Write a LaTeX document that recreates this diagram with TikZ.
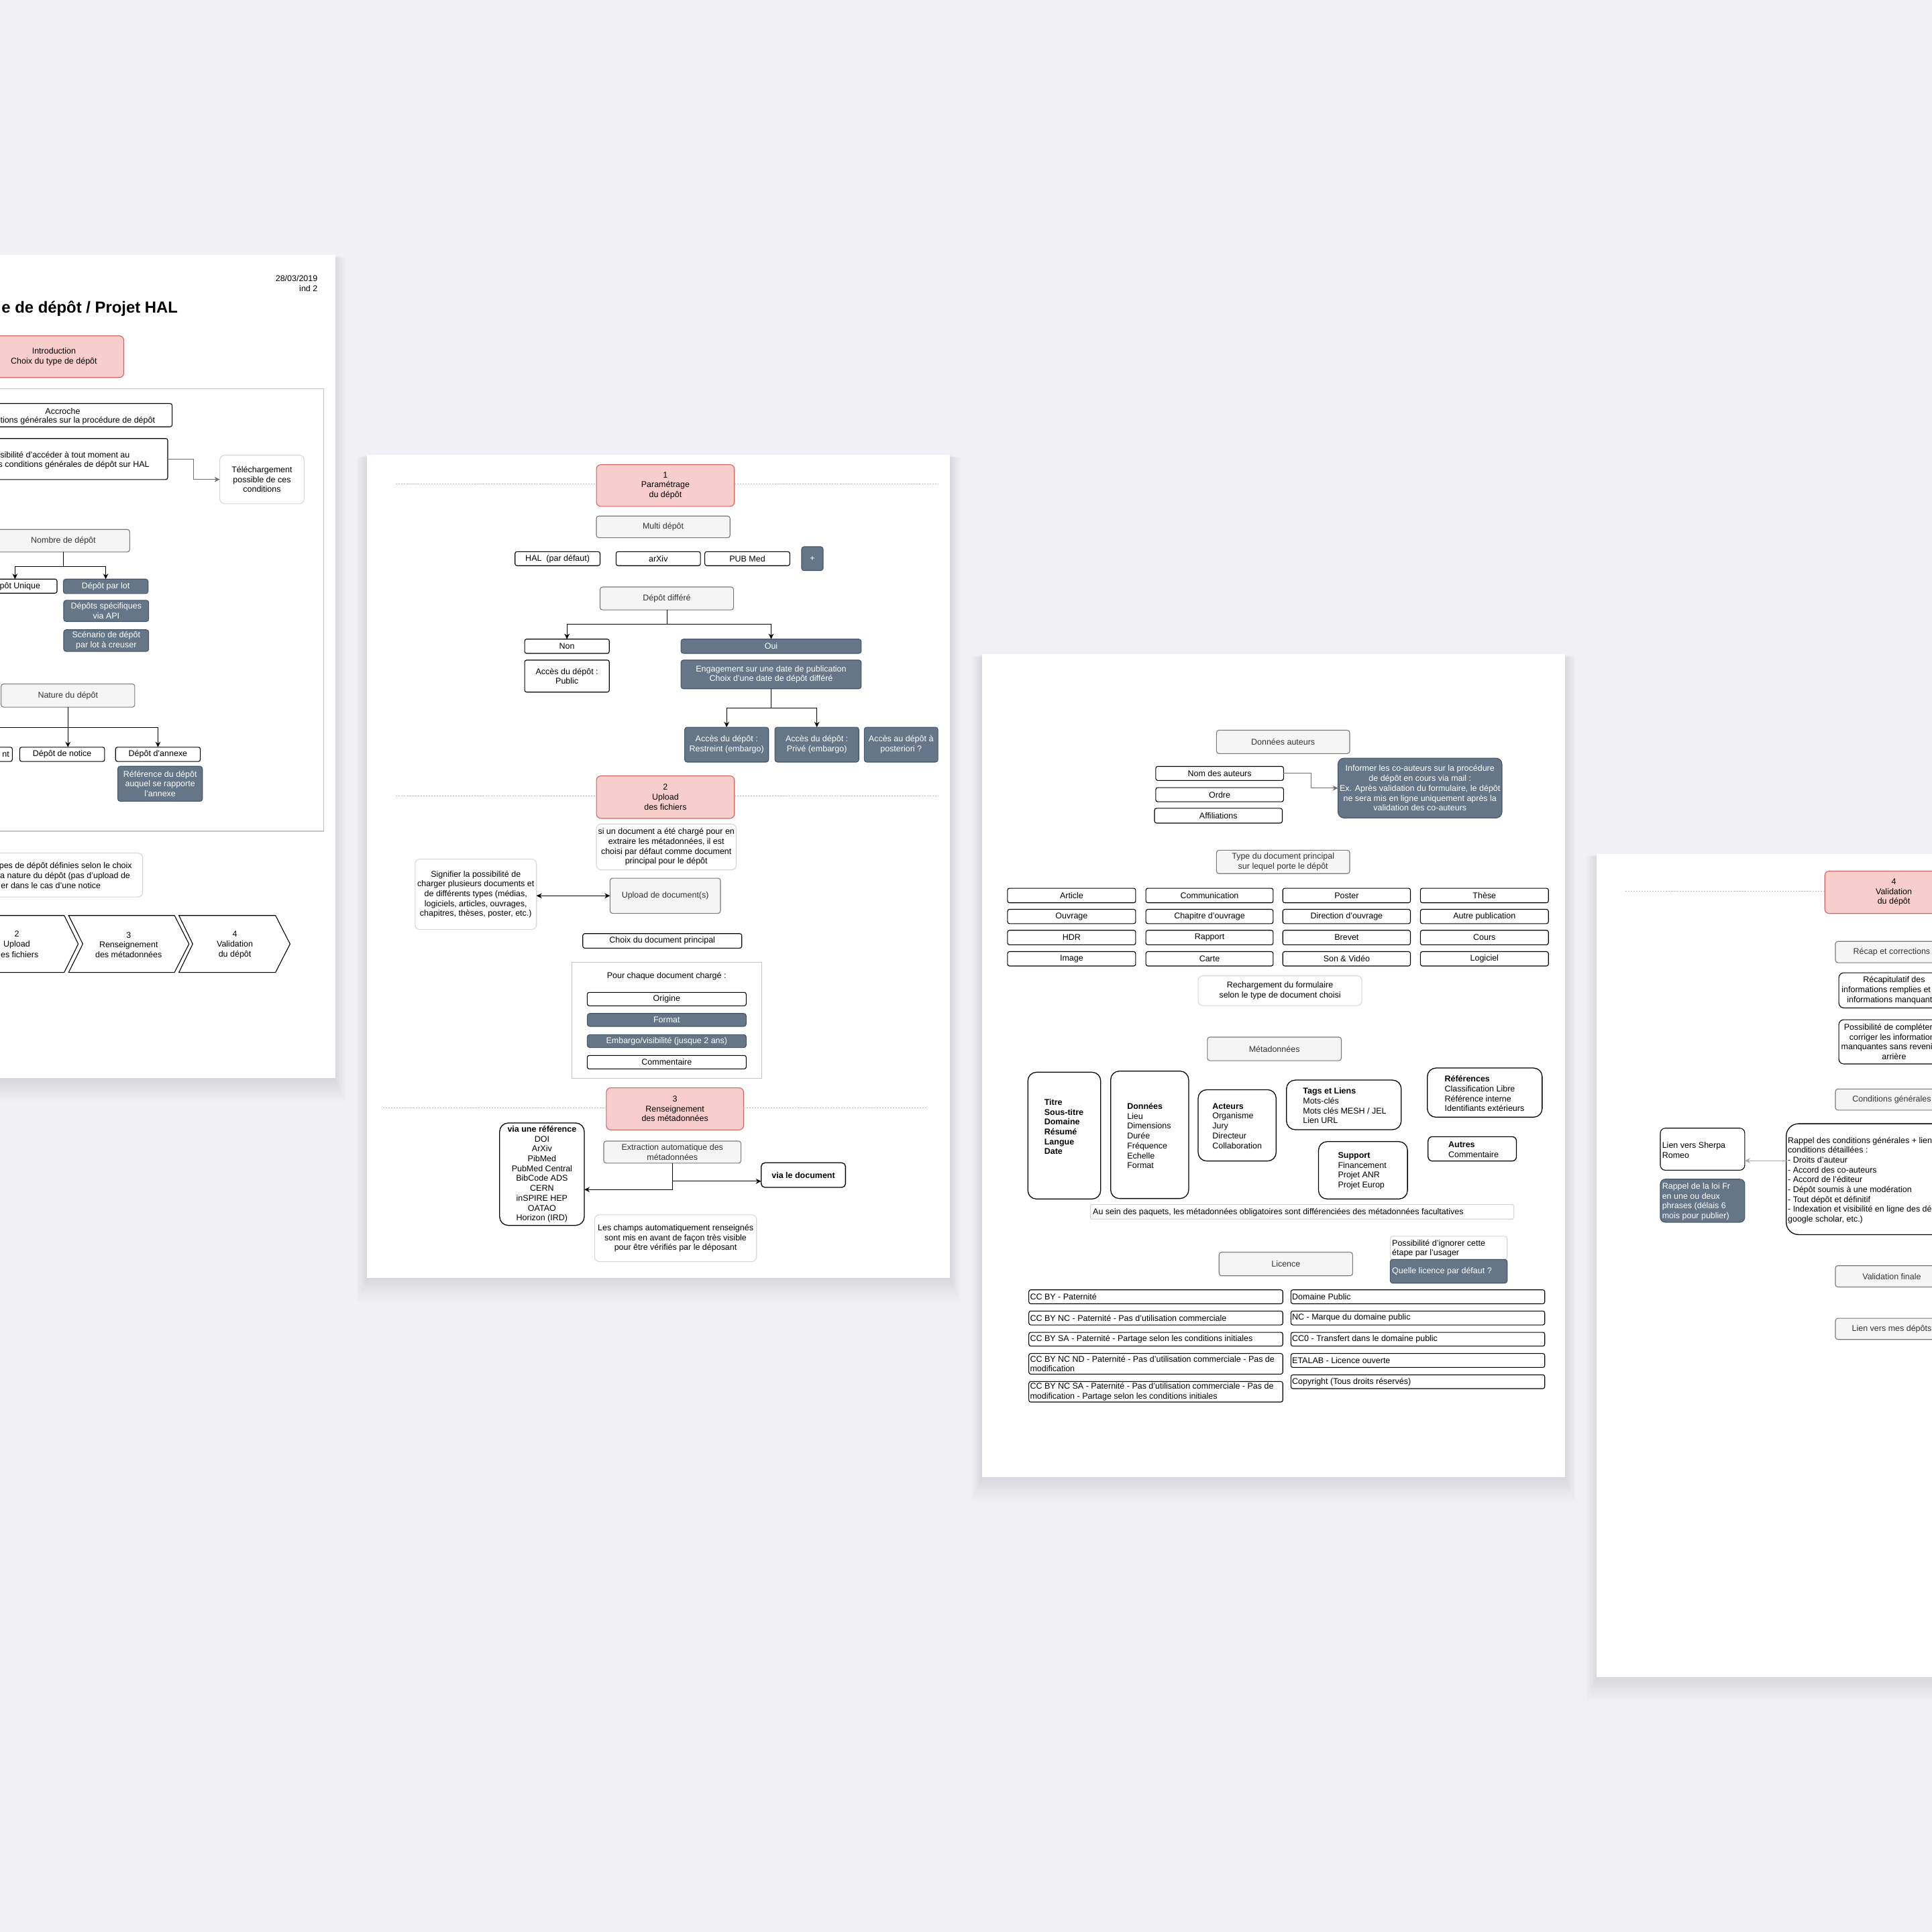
\documentclass[tikz,border=0pt]{standalone}
\usepackage{fontspec}
\setmainfont{Liberation Sans}
\usetikzlibrary{arrows.meta}
\newcommand\fsz{\fontsize{6.8}{8}\selectfont}
\newcommand\bx[7]{%
  \pgfmathsetmacro\bxw{(#4)-(#2)}%
  \pgfmathsetmacro\bxh{(#5)-(#3)}%
  \pgfmathsetmacro\bxx{((#2)+(#4))/2}%
  \pgfmathsetmacro\bxy{((#3)+(#5))/2}%
  \node[#1, minimum width=\bxw pt, minimum height=\bxh pt] (#6) at (\bxx,\bxy) {#7};}
\definecolor{bgc}{HTML}{F1F1F5}
\definecolor{pinkf}{HTML}{F8CECC}
\definecolor{pinkd}{HTML}{D4625F}
\definecolor{darkf}{HTML}{647687}
\definecolor{darkd}{HTML}{46566A}
\definecolor{grayf}{HTML}{F5F5F5}
\definecolor{grayd}{HTML}{7A7A7A}
\definecolor{grayt}{HTML}{333333}
\definecolor{noted}{HTML}{D6D6D6}
\definecolor{framed}{HTML}{C4C4C4}
\definecolor{dashc}{HTML}{BDBDBD}
\definecolor{arrg}{HTML}{6E6E6E}
\definecolor{arrl}{HTML}{AAAAAA}
\begin{document}
\begin{tikzpicture}[x=1pt,y=-1pt,
  base/.style={inner sep=0pt, outer sep=0pt, align=center, font=\fsz, line width=0.6pt},
  wbox/.style={base, draw=black, fill=white, rounded corners=1.6pt},
  gbox/.style={base, draw=grayd, fill=grayf, text=grayt, rounded corners=2pt},
  dbox/.style={base, draw=darkd, fill=darkf, text=white, rounded corners=2pt},
  pbox/.style={base, draw=pinkd, fill=pinkf, rounded corners=3.5pt},
  nbox/.style={base, draw=noted, fill=white, rounded corners=4pt},
  rbox/.style={base, draw=black, fill=white, rounded corners=7pt, line width=0.7pt},
  fbox/.style={base, draw=framed, line width=0.7pt},
  txt/.style={inner sep=0pt, outer sep=0pt, font=\fsz, align=left},
  ctxt/.style={inner sep=0pt, outer sep=0pt, font=\fsz, align=center},
  arr/.style={draw=black, line width=0.6pt, -{Stealth[length=4.4pt,width=4.2pt]}},
  plainl/.style={draw=black, line width=0.6pt},
  garr/.style={draw=arrg, line width=0.6pt, -{Stealth[length=4.4pt,width=4.2pt]}},
  larr/.style={draw=arrl, line width=0.6pt, -{Stealth[length=4.4pt,width=4.2pt]}},
  darr/.style={draw=black, line width=0.7pt, {Stealth[length=4.4pt,width=4.2pt]}-{Stealth[length=4.4pt,width=4.2pt]}},
  dline/.style={draw=dashc, line width=0.5pt, dash pattern=on 1.2pt off 1pt},
  chev/.style={draw=black, fill=white, line width=0.6pt, line join=miter}
]
\useasboundingbox (0,0) rectangle (1568,1568);
\fill[bgc] (0,0) rectangle (1568,1568);

% page shadows
\foreach \xa/\ya/\xb/\yb in {-40/207/272/875, 298/369/771/1037, 797/531/1270/1199, 1296/693/1620/1361}{
  \foreach \k in {1,...,12}{
    \fill[black, opacity=0.009] ({\xa-0.7*\k},{\ya+0.2*\k}) rectangle ({\xb+0.7*\k},{\yb+1.6*\k});
  }
}
% pages
\fill[white] (-40,207) rectangle (272,875);
\fill[white] (298,369) rectangle (771,1037);
\fill[white] (797,531) rectangle (1270,1199);
\fill[white] (1296,693) rectangle (1620,1361);

%%%%%%%%%%%%%%%% PAGE 1
\node[txt, anchor=east] (date) at (257.7,225.8) {28/03/2019};
\node[txt, anchor=east] (ind) at (257.7,234.2) {ind 2};
\node[txt, anchor=east, font=\bfseries\fontsize{13}{15}\selectfont] (title) at (144.3,250.5) {e de dépôt / Projet HAL};
\bx{pbox}{-12.8}{272.6}{100.4}{306.4}{intro}{Introduction\\Choix du type de dépôt}
\bx{fbox}{-5}{315.6}{262.6}{674.6}{frame1}{}

\bx{wbox}{-40}{327.5}{139.7}{346.4}{accr}{}
\node[ctxt] (accrt) at (50.9,333.8) {Accroche};
\node[txt, anchor=east] (accrt2) at (125.8,341.7) {tions générales sur la procédure de dépôt};

\bx{wbox}{-40}{355.9}{136.1}{389.2}{acces}{}
\node[txt, anchor=east] (accest1) at (105.3,369.1) {sibilité d'accéder à tout moment au};
\node[txt, anchor=east] (accest2) at (121.2,377.3) {s conditions générales de dépôt sur HAL};
\bx{nbox}{178.4}{369.4}{246.8}{408.8}{tele}{Téléchargement\\possible de ces\\conditions}
\draw[garr] (acces.east) -- ++(21,0) |- (tele.west);

\bx{gbox}{-2.5}{429.7}{105.3}{448}{nombre}{Nombre de dépôt}
\bx{wbox}{-22}{470}{46.3}{481.4}{unique}{}
\node[txt, anchor=east] (uniquet) at (32.7,476) {pôt Unique};
\bx{dbox}{51.4}{470}{120.2}{481.8}{lot}{Dépôt par lot}
\bx{dbox}{51.7}{487.2}{120.7}{504.4}{api}{Dépôts spécifiques\\via API}
\bx{dbox}{51.7}{511.1}{120.7}{528.7}{scen}{Scénario de dépôt\\par lot à creuser}
\draw[arr] (nombre.south) -- ++(0,11.9) -| (unique.north);
\draw[arr] (nombre.south) -- ++(0,11.9) -| (lot.north);

\bx{gbox}{0.9}{555.1}{109.4}{573.9}{nature}{Nature du dépôt}
\bx{wbox}{-50}{606.4}{10}{618}{docb}{}
\node[txt, anchor=east] (doct) at (7.5,612.4) {nt};
\bx{wbox}{16}{606.4}{84.9}{618}{notice}{Dépôt de notice}
\bx{wbox}{93.8}{606.4}{162.6}{618}{annexe}{Dépôt d'annexe}
\bx{dbox}{95.6}{621.9}{164.3}{650.3}{refa}{Référence du dépôt\\auquel se rapporte\\l'annexe}
\coordinate (natl) at (-5,590.2);
\draw[arr] (nature.south) -- (nature.south |- notice.north);
\draw[arr] (nature.south) -- ++(0,16.3) -| (annexe.north);
\draw[plainl] (nature.south |- natl) -- (natl);

\bx{nbox}{-40}{692.3}{115.8}{728}{note1}{}
\node[txt, anchor=east] (note1a) at (107.1,702.9) {pes de dépôt définies selon le choix};
\node[txt, anchor=east] (note1b) at (105.6,710.9) {a nature du dépôt (pas d'upload de};
\node[txt, anchor=east] (note1c) at (81.7,718.9) {er dans le cas d'une notice};

\draw[chev] (-20,743) -- (52.1,743) -- (63.5,766.1) -- (52.1,789.2) -- (-20,789.2);
\draw[chev] (55.7,743) -- (141.6,743) -- (153.4,766.1) -- (141.6,789.2) -- (55.7,789.2) -- (67.2,766.1) -- cycle;
\draw[chev] (145.2,743) -- (223.6,743) -- (235.4,766.1) -- (223.6,789.2) -- (145.2,789.2) -- (156.4,766.1) -- cycle;
\node[ctxt] (chat) at (13.6,762.9) {2\\Upload};
\node[txt, anchor=east] (chat2) at (31.2,774.6) {es fichiers};
\node[ctxt] (chbt) at (104.4,766.8) {3\\Renseignement\\des métadonnées};
\node[ctxt] (chct) at (190.6,766.8) {4\\Validation\\du dépôt};

%%%%%%%%%%%%%%%% PAGE 2
\bx{pbox}{484.1}{377.1}{596}{411}{p1}{1\\Paramétrage\\du dépôt}
\coordinate (d1l) at (321.3,392.9);
\coordinate (d1r) at (761.8,392.9);
\draw[dline] (d1l) -- (d1l -| p1.west);
\draw[dline] (p1.east |- d1r) -- (d1r);
\bx{gbox}{484}{418.8}{592.5}{436.4}{multi}{Multi dépôt}
\bx{wbox}{418}{447.7}{487}{459.1}{hal}{HAL~~(par défaut)}
\bx{wbox}{500}{447.7}{568.5}{459.1}{arxiv}{arXiv}
\bx{wbox}{572}{447.7}{641}{459.1}{pubmed}{PUB Med}
\bx{dbox}{650.6}{443.7}{668}{463.1}{plus}{+}
\bx{gbox}{487}{476.4}{595.4}{495}{diff}{Dépôt différé}
\bx{wbox}{425.8}{518.7}{494.5}{530.3}{non}{Non}
\bx{dbox}{552.7}{518.7}{699}{530.3}{oui}{Oui}
\draw[arr] (diff.south) -- ++(0,11.7) -| (non.north);
\draw[arr] (diff.south) -- ++(0,11.7) -| (oui.north);
\bx{wbox}{425.8}{535.7}{494.5}{561.7}{public}{Accès du dépôt :\\Public}
\bx{dbox}{552.7}{535.7}{699}{559}{eng}{Engagement sur une date de publication\\Choix d'une date de dépôt différé}
\bx{dbox}{555.7}{590.2}{623.8}{618.5}{restr}{Accès du dépôt :\\Restreint (embargo)}
\bx{dbox}{628.9}{590.2}{697}{618.5}{prive}{Accès du dépôt :\\Privé (embargo)}
\bx{dbox}{701.4}{590.2}{761.2}{618.5}{post}{Accès au dépôt à\\posteriori ?}
\draw[arr] (eng.south) -- ++(0,15.7) -| (restr.north);
\draw[arr] (eng.south) -- ++(0,15.7) -| (prive.north);

\bx{pbox}{484.1}{629.7}{596}{664.2}{p2}{2\\Upload\\des fichiers}
\coordinate (d2l) at (321.3,645.7);
\coordinate (d2r) at (761.8,645.7);
\draw[dline] (d2l) -- (d2l -| p2.west);
\draw[dline] (p2.east |- d2r) -- (d2r);
\bx{nbox}{484}{668.7}{597.5}{706}{note2}{si un document a été chargé pour en\\extraire les métadonnées, il est\\choisi par défaut comme document\\principal pour le dépôt}
\bx{nbox}{336.9}{697.2}{435.4}{754.4}{lnote}{Signifier la possibilité de\\charger plusieurs documents et\\de différents types (médias,\\logiciels, articles, ouvrages,\\chapitres, thèses, poster, etc.)}
\bx{gbox}{495.1}{712.7}{584.7}{741.3}{upload}{Upload de document(s)}
\draw[darr] (lnote.east |- upload.west) -- (upload.west);
\bx{wbox}{473}{757.7}{602}{769.5}{choix}{Choix du document principal}
\bx{fbox}{464}{780.9}{618.4}{875}{frame2}{}
\node[ctxt] (pourt) at (541,792.5) {Pour chaque document chargé :};
\bx{wbox}{476.6}{805.4}{605.6}{816.3}{orig}{Origine}
\bx{dbox}{476.6}{822.5}{605.6}{833}{format}{Format}
\bx{dbox}{476.6}{839.7}{605.6}{850.2}{embargo}{Embargo/visibilité (jusque 2 ans)}
\bx{wbox}{476.6}{856.6}{605.6}{867.5}{comment}{Commentaire}

\bx{pbox}{492.1}{882.9}{603.5}{917}{p3}{3\\Renseignement\\des métadonnées}
\coordinate (d3l) at (310.9,899.2);
\coordinate (d3r) at (752,899.2);
\draw[dline] (d3l) -- (d3l -| p3.west);
\draw[dline] (p3.east |- d3r) -- (d3r);
\bx{rbox}{405.5}{911.4}{474.2}{994.5}{vref}{\textbf{via une référence}\\DOI\\ArXiv\\PibMed\\PubMed Central\\BibCode ADS\\CERN\\inSPIRE HEP\\OATAO\\Horizon (IRD)}
\bx{gbox}{490}{926.1}{601.4}{944}{extr}{Extraction automatique des\\métadonnées}
\bx{wbox, rounded corners=3pt, line width=0.7pt}{617.8}{943.7}{686.2}{963.7}{vdoc}{\textbf{via le document}}
\coordinate (vrin) at ([yshift=-12.5pt]vref.east);
\coordinate (vdin) at ([yshift=-5pt]vdoc.west);
\draw[arr] (extr.south) |- (vrin);
\draw[arr] (extr.south |- vdin) -- (vdin);
\bx{nbox}{482.6}{985.9}{614}{1023.9}{note3}{Les champs automatiquement renseignés\\sont mis en avant de façon très visible\\pour être vérifiés par le déposant}

%%%%%%%%%%%%%%%% PAGE 3
\bx{gbox}{987.3}{592.6}{1095.4}{611.6}{dauteurs}{Données auteurs}
\bx{wbox}{938}{622}{1041.7}{633.4}{nom}{Nom des auteurs}
\bx{wbox}{938}{639.2}{1041.7}{650.7}{ordre}{Ordre}
\bx{wbox}{937}{656}{1040.7}{668}{affil}{Affiliations}
\bx{dbox, rounded corners=5pt}{1085.9}{615.3}{1219}{663.9}{inform}{Informer les co-auteurs sur la procédure\\de dépôt en cours via mail :\\Ex. Après validation du formulaire, le dépôt\\ne sera mis en ligne uniquement après la\\validation des co-auteurs}
\draw[garr] (nom.east) -- ++(22.3,0) |- (inform.west);
\bx{gbox}{987.3}{690}{1095.4}{709}{typedoc}{Type du document principal\\sur lequel porte le dépôt}

\bx{wbox}{817.7}{720.9}{921.7}{732.7}{t11}{Article}
\bx{wbox}{930}{720.9}{1033.3}{732.7}{t12}{Communication}
\bx{wbox}{1041.1}{720.9}{1144.7}{732.7}{t13}{Poster}
\bx{wbox}{1152.8}{720.9}{1256.7}{732.7}{t14}{Thèse}
\bx{wbox}{817.7}{738}{921.7}{749.6}{t21}{Ouvrage}
\bx{wbox}{930}{738}{1033.3}{749.6}{t22}{Chapitre d'ouvrage}
\bx{wbox}{1041.1}{738}{1144.7}{749.6}{t23}{Direction d'ouvrage}
\bx{wbox}{1152.8}{738}{1256.7}{749.6}{t24}{Autre publication}
\bx{wbox}{817.7}{755}{921.7}{766.8}{t31}{HDR}
\bx{wbox}{930}{755}{1033.3}{766.8}{t32}{Rapport}
\bx{wbox}{1041.1}{755}{1144.7}{766.8}{t33}{Brevet}
\bx{wbox}{1152.8}{755}{1256.7}{766.8}{t34}{Cours}
\bx{wbox}{817.7}{772.3}{921.7}{784}{t41}{Image}
\bx{wbox}{930}{772.3}{1033.3}{784}{t42}{Carte}
\bx{wbox}{1041.1}{772.3}{1144.7}{784}{t43}{Son \& Vidéo}
\bx{wbox}{1152.8}{772.3}{1256.7}{784}{t44}{Logiciel}
\bx{nbox}{972.4}{791.9}{1105.3}{816.2}{rech}{Rechargement du formulaire\\selon le type de document choisi}

\bx{gbox}{979.9}{841.7}{1088.6}{860.8}{meta}{Métadonnées}
\bx{rbox}{834.2}{870.2}{893.3}{973.1}{ma}{}
\node[txt, anchor=west, font=\fsz\bfseries] (mat) at (847.6,914.5) {Titre\\Sous-titre\\Domaine\\Résumé\\Langue\\Date};
\bx{rbox}{901.4}{869.3}{964.7}{972.7}{mb}{}
\node[txt, anchor=west] (mbt) at (914.8,921.8) {\textbf{Données}\\Lieu\\Dimensions\\Durée\\Fréquence\\Echelle\\Format};
\bx{rbox}{972.4}{884.4}{1035.7}{942.3}{mc}{}
\node[txt, anchor=west] (mct) at (984,913.8) {\textbf{Acteurs}\\Organisme\\Jury\\Directeur\\Collaboration};
\bx{rbox}{1044.1}{876.6}{1137.2}{916.8}{md}{}
\node[txt, anchor=west] (mdt) at (1057.5,897.5) {\textbf{Tags et Liens}\\Mots-clés\\Mots clés MESH / JEL\\Lien URL};
\bx{rbox}{1070.1}{926.5}{1142.3}{973.1}{me}{}
\node[txt, anchor=west] (met) at (1085.9,950.3) {\textbf{Support}\\Financement\\Projet ANR\\Projet Europ};
\bx{rbox}{1158.4}{866.8}{1251.6}{906.7}{mf}{}
\node[txt, anchor=west] (mft) at (1172.5,887.6) {\textbf{Références}\\Classification Libre\\Référence interne\\Identifiants extérieurs};
\bx{rbox, rounded corners=3.5pt}{1159}{922.5}{1230.7}{942.3}{mg}{}
\node[txt, anchor=west] (mgt) at (1175.5,933.1) {\textbf{Autres}\\Commentaire};
\bx{nbox, rounded corners=1pt}{884.9}{977.6}{1228.6}{989.4}{mnote}{}
\node[txt, anchor=west] (mnotet) at (887,983.8) {Au sein des paquets, les métadonnées obligatoires sont différenciées des métadonnées facultatives};

\bx{gbox}{989.4}{1016.3}{1097.8}{1035.4}{licence}{Licence}
\bx{nbox, rounded corners=2pt}{1128.3}{1003.3}{1223.2}{1022.1}{ignore}{}
\node[txt, anchor=west] (ignoret) at (1129.8,1013.3) {Possibilité d'ignorer cette\\étape par l'usager};
\bx{dbox}{1128.3}{1022.1}{1223.2}{1041.4}{quelle}{}
\node[txt, anchor=west, text=white] (quellet) at (1129.8,1032) {Quelle licence par défaut ?};

\bx{wbox}{835}{1046.8}{1041.1}{1058.1}{l1}{}
\node[txt, anchor=west, xshift=1pt] (l1t) at (l1.west) {CC BY - Paternité};
\bx{wbox}{835}{1064}{1041.1}{1075.3}{l2}{}
\node[txt, anchor=west, xshift=1pt] (l2t) at (l2.west) {CC BY NC - Paternité - Pas d'utilisation commerciale};
\bx{wbox}{835}{1081.3}{1041.1}{1092.5}{l3}{}
\node[txt, anchor=west, xshift=1pt] (l3t) at (l3.west) {CC BY SA - Paternité - Partage selon les conditions initiales};
\bx{wbox}{835}{1098.5}{1041.1}{1115.2}{l4}{}
\node[txt, anchor=west, xshift=1pt] (l4t) at (l4.west) {CC BY NC ND - Paternité - Pas d'utilisation commerciale - Pas de\\modification};
\bx{wbox}{835}{1121.2}{1041.1}{1137.9}{l5}{}
\node[txt, anchor=west, xshift=1pt] (l5t) at (l5.west) {CC BY NC SA - Paternité - Pas d'utilisation commerciale - Pas de\\modification - Partage selon les conditions initiales};
\bx{wbox}{1047.7}{1046.8}{1253.7}{1058.1}{r1}{}
\node[txt, anchor=west, xshift=1pt] (r1t) at (r1.west) {Domaine Public};
\bx{wbox}{1047.7}{1064}{1253.7}{1075.3}{r2}{}
\node[txt, anchor=west, xshift=1pt] (r2t) at (r2.west) {NC - Marque du domaine public};
\bx{wbox}{1047.7}{1081.3}{1253.7}{1092.5}{r3}{}
\node[txt, anchor=west, xshift=1pt] (r3t) at (r3.west) {CC0 - Transfert dans le domaine public};
\bx{wbox}{1047.7}{1098.5}{1253.7}{1109.8}{r4}{}
\node[txt, anchor=west, xshift=1pt] (r4t) at (r4.west) {ETALAB - Licence ouverte};
\bx{wbox}{1047.7}{1115.8}{1253.7}{1127}{r5}{}
\node[txt, anchor=west, xshift=1pt] (r5t) at (r5.west) {Copyright (Tous droits réservés)};

%%%%%%%%%%%%%%%% PAGE 4
\bx{pbox}{1481}{707}{1593}{741.4}{p4}{4\\Validation\\du dépôt}
\coordinate (d4l) at (1319,723);
\draw[dline] (d4l) -- (d4l -| p4.west);
\bx{gbox}{1489.6}{764}{1581}{781.3}{recap}{Récap et corrections}
\bx{wbox, rounded corners=4pt}{1492.4}{789.5}{1582}{818}{recapit}{Récapitulatif des\\informations remplies et des\\informations manquantes}
\bx{wbox, rounded corners=4pt}{1492.4}{827.6}{1582}{863.5}{compl}{Possibilité de compléter ou\\corriger les informations\\manquantes sans revenir en\\arrière}
\bx{gbox}{1489.6}{883.8}{1581}{901}{condg}{Conditions générales}
\bx{wbox, rounded corners=4pt}{1347.5}{915.6}{1416}{949.7}{sherpa}{}
\node[txt, anchor=west] (sherpat) at (1349,933.3) {Lien vers Sherpa\\Romeo};
\bx{dbox, rounded corners=4pt}{1347.5}{957}{1416}{992}{loi}{}
\node[txt, anchor=west, text=white] (loit) at (1349,975.3) {Rappel de la loi Fr\\en une ou deux\\phrases (délais 6\\mois pour publier)};
\bx{rbox, rounded corners=10pt}{1449.7}{912}{1600}{1002}{rappel}{}
\node[txt, anchor=west] (rappelt) at (1451,958) {Rappel des conditions générales + lien\\conditions détaillées :\\- Droits d'auteur\\- Accord des co-auteurs\\- Accord de l'éditeur\\- Dépôt soumis à une modération\\- Tout dépôt et définitif\\- Indexation et visibilité en ligne des dépôts\\google scholar, etc.)};
\coordinate (sa) at (1449.7,942);
\draw[larr] (sa) -- (sa -| sherpa.east);
\bx{gbox}{1489.6}{1027.2}{1581}{1044.5}{valid}{Validation finale}
\bx{gbox}{1489.6}{1069.9}{1581}{1087.1}{mesdep}{Lien vers mes dépôts}
\end{tikzpicture}
\end{document}
